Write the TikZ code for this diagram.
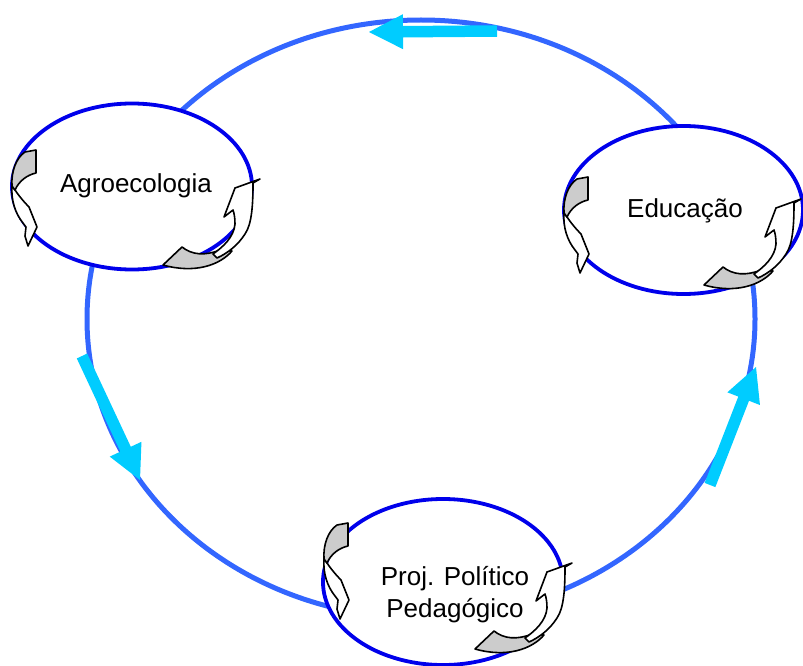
\documentclass[tikz,border=0pt]{standalone}
\usepackage{fontspec}
\setmainfont{Liberation Sans}
\usetikzlibrary{calc,shapes.geometric}
\definecolor{ringblue}{RGB}{51,102,255}
\definecolor{bubbleblue}{RGB}{0,0,235}
\definecolor{arrowcyan}{RGB}{0,204,255}
\definecolor{curlgray}{RGB}{204,204,204}
\tikzset{
  ring/.style={draw=ringblue, line width=5pt},
  bubble/.style={ellipse, draw=bubbleblue, line width=3.8pt, fill=white,
    minimum width=240pt, minimum height=166pt, inner sep=0pt},
  lbl/.style={font=\fontsize{26}{32}\selectfont, inner sep=0pt, align=center},
  curlline/.style={draw=black, line width=1.6pt, line join=round},
  leftcurl/.pic={
    \filldraw[curlline, fill=white] (-24,36) .. controls (-25,50) and (-21,63) .. (-13,73)
      -- (-10,77) -- (-11,86) -- (-8,96) -- (1,77) -- (-7,57)
      .. controls (-12,52) and (-17,46) .. (-21,40) -- cycle;
    \filldraw[curlline, fill=curlgray] (-11,2) -- (0,0) -- (0,23)
      .. controls (-9,25) and (-17,31) .. (-21,40) -- (-24,36)
      .. controls (-25,22) and (-20,8) .. (-11,2) -- cycle;
  },
  rightcurl/.pic={
    \filldraw[curlline, fill=curlgray] (-97,86) -- (-78,68)
      .. controls (-68,76) and (-55,77) .. (-40,71) -- (-28,72)
      .. controls (-40,86) and (-65,95) .. (-97,86) -- cycle;
    \filldraw[curlline, fill=white] (-47,75) .. controls (-37,68) and (-26,58) .. (-25,45)
      .. controls (-25,38) and (-26,34) .. (-27,31) -- (-36,38) -- (-25,9) -- (0,0) -- (-7,4)
      .. controls (-7,25) and (-8,45) .. (-15,55)
      .. controls (-22,66) and (-32,74) .. (-43,79) -- cycle;
  }
}
\newcommand{\cyanarrow}[3]{%
  \coordinate (#3) at ($(#2)!34pt!(#1)$);
  \fill[arrowcyan] ($(#1)!5.75pt!90:(#2)$) -- ($(#3)!5.75pt!90:(#2)$)
    -- ($(#3)!17.5pt!90:(#2)$) -- (#2) -- ($(#3)!17.5pt!-90:(#2)$)
    -- ($(#3)!5.75pt!-90:(#2)$) -- ($(#1)!5.75pt!-90:(#2)$) -- cycle;}
\begin{document}
\begin{tikzpicture}[x=1pt, y=-1pt]
  \useasboundingbox (0,0) rectangle (803,666);
  % big cycle
  \draw[ring] (421,319) ellipse [x radius=334pt, y radius=299pt];
  % bubbles
  \node[bubble] (agro) at (132,186.5) {};
  \node[bubble, minimum width=239pt, minimum height=168pt] (edu) at (683.5,210) {};
  \node[bubble] (ppp) at (443,582) {};
  % cyan cycle arrows
  \coordinate (toptail) at (497,31);
  \coordinate (toptip) at (369,32);
  \coordinate (lefttail) at (82,356);
  \coordinate (lefttip) at (140,480);
  \coordinate (righttail) at (710,485);
  \coordinate (righttip) at (756,367);
  \cyanarrow{toptail}{toptip}{topbase}
  \cyanarrow{lefttail}{lefttip}{leftbase}
  \cyanarrow{righttail}{righttip}{rightbase}
  % curved arrows
  \pic at (36,150) {leftcurl};
  \pic at (260,179) {rightcurl};
  \pic at (588,177) {leftcurl};
  \pic at (801,199) {rightcurl};
  \pic at (348,523) {leftcurl};
  \pic at (572,563) {rightcurl};
  % labels
  \node[lbl, anchor=base] (agrot) at (136,192) {Agroecologia};
  \node[lbl, anchor=base] (edut) at (685,217) {Educação};
  \node[lbl] (pppt) at (455,595) {Proj. Político\\Pedagógico};
\end{tikzpicture}
\end{document}
